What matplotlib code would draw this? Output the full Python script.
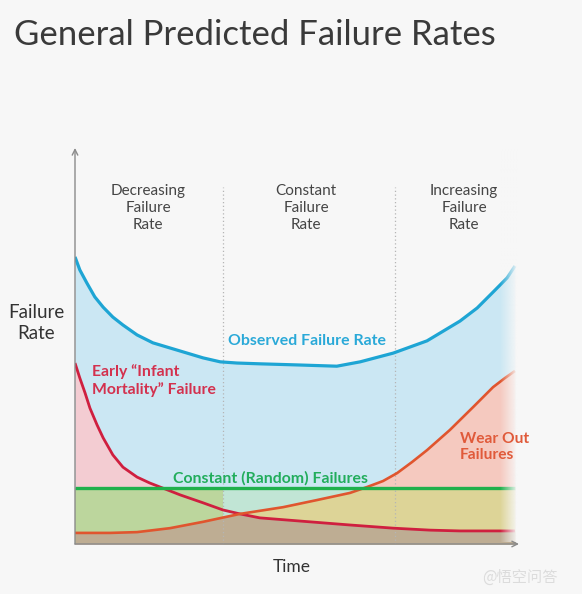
import numpy as np
import matplotlib
matplotlib.use('Agg')
import matplotlib.pyplot as plt

plt.rcParams['font.family'] = ['Lato', 'DejaVu Sans']

# curves: time 0..100, failure rate 0..100
obs_x = [0, 1.1, 2.7, 4.5, 6.4, 8.6, 10.9, 14.1, 17.7, 21.6, 25.5, 29.1, 33.0, 36.8,
         42.0, 51.1, 59.5, 64.8, 72.3, 80.0, 87.5, 91.4, 95.0, 98.2, 100]
obs_y = [72.5, 69.2, 65.9, 62.4, 59.8, 57.3, 55.3, 52.8, 50.8, 49.5, 48.2, 47.0, 46.0, 45.7,
         45.5, 45.2, 44.9, 46.0, 48.2, 51.3, 56.3, 59.6, 63.6, 67.2, 70.2]

infant_x = [0, 1.1, 2.3, 3.4, 5.0, 6.4, 8.6, 10.9, 14.1, 17.0, 20.0, 23.9, 29.1, 33.6,
            37.5, 42.0, 51.1, 62.5, 72.3, 80.7, 87.5, 100]
infant_y = [45.7, 41.9, 38.1, 34.3, 30.1, 26.8, 22.5, 19.4, 16.9, 15.4, 14.1, 12.4, 10.4, 8.6,
            7.6, 6.6, 5.8, 4.8, 4.0, 3.5, 3.3, 3.3]

wear_x = [0, 8.0, 14.1, 21.6, 29.1, 37.5, 47.3, 55.0, 62.5, 66.4, 70.0, 73.2,
          76.6, 80.0, 85.2, 90.5, 95.0, 97.7, 100]
wear_y = [2.8, 2.8, 3.0, 4.0, 5.6, 7.6, 9.3, 11.1, 12.9, 14.4, 15.9, 17.9,
          20.7, 23.7, 28.8, 34.6, 39.6, 41.9, 43.7]

random_level = 14.1
dividers = [33.6, 72.7]

sections = ['Decreasing\nFailure\nRate', 'Constant\nFailure\nRate', 'Increasing\nFailure\nRate']
section_x = [16.6, 52.5, 88.4]

bg = '#f7f7f7'
blue, red, orange, green = '#1ea5d4', '#cf1f3f', '#e0552e', '#1fb04c'

fig = plt.figure(figsize=(5.82, 5.94), dpi=100, facecolor=bg)
ax = fig.add_axes([75 / 582, 50 / 594, 442 / 582, 396 / 594])
ax.set_facecolor('none')
ax.set_xlim(0, 100.45)
ax.set_ylim(0, 100)
for s in ax.spines.values():
    s.set_visible(False)
ax.set_xticks([])
ax.set_yticks([])

# common grid for the fill regions
xg = np.array(sorted(set(obs_x) | set(infant_x) | set(wear_x) | set(dividers)))
o_y = np.interp(xg, obs_x, obs_y)
r_y = np.interp(xg, infant_x, infant_y)
w_y = np.interp(xg, wear_x, wear_y)
g_y = np.full_like(xg, random_level)

ax.fill_between(xg, 0, o_y, color='#cbe7f3', lw=0, zorder=1)
ax.fill_between(xg, 0, r_y, color='#f3ccd2', lw=0, zorder=2)
ax.fill_between(xg, 0, w_y, color='#f5c9bf', lw=0, zorder=2)
ax.fill_between(xg, 0, g_y, color='#c1e5d5', lw=0, zorder=3)
ax.fill_between(xg, 0, g_y, where=xg <= dividers[0], color='#bcd69d', lw=0, zorder=3)
ax.fill_between(xg, 0, np.minimum(w_y, g_y), where=xg >= dividers[0], color='#ddd497', lw=0, zorder=3)
ax.fill_between(xg, 0, np.minimum(r_y, w_y), color='#bead93', lw=0, zorder=4)

for d in dividers:
    ax.plot([d, d], [0, 90.2], color='#b5b5b5', lw=0.9, ls=(0, (1, 2)), zorder=5)

ax.plot(obs_x, obs_y, color=blue, lw=2.3, zorder=6, solid_capstyle='butt', solid_joinstyle='round')
ax.plot(infant_x, infant_y, color=red, lw=2.0, zorder=6, solid_capstyle='butt', solid_joinstyle='round')
ax.plot(wear_x, wear_y, color=orange, lw=1.9, zorder=6, solid_capstyle='butt', solid_joinstyle='round')
ax.plot([0, 100], [random_level, random_level], color=green, lw=2.4, zorder=6, solid_capstyle='butt')

# right edge fade
fade = np.zeros((2, 60, 4))
fade[..., :3] = matplotlib.colors.to_rgb(bg)
fade[..., 3] = np.linspace(0, 1, 60)
ax.imshow(fade, extent=[96.5, 100.45, 0.4, 100], aspect='auto', zorder=7, interpolation='bilinear')

# axes with arrows
ax.annotate('', xy=(0, 100), xytext=(0, 0),
            arrowprops=dict(arrowstyle='->', color='#8a8a8a', lw=1.0, shrinkA=0, shrinkB=0),
            annotation_clip=False, zorder=8)
ax.annotate('', xy=(100.9, 0), xytext=(0, 0),
            arrowprops=dict(arrowstyle='->', color='#8a8a8a', lw=1.0, shrinkA=0, shrinkB=0),
            annotation_clip=False, zorder=8)

for sx, txt in zip(section_x, sections):
    ax.text(sx, 84.8, txt, ha='center', va='center', fontsize=11, color='#454545',
            linespacing=1.25, zorder=9)

ax.text(52.7, 51.3, 'Observed Failure Rate', ha='center', va='center', fontsize=11.4,
        color='#2aa9d8', fontweight='bold', zorder=9)
ax.text(3.9, 41.3, 'Early \u201cInfant\nMortality\u201d Failure', ha='left', va='center',
        fontsize=11.3, color='#d3314e', fontweight='bold', linespacing=1.2, zorder=9)
ax.text(87.5, 24.4, 'Wear Out\nFailures', ha='left', va='center', fontsize=11.2,
        color='#e05a3a', fontweight='bold', linespacing=1.2, zorder=9, clip_on=False)
ax.text(44.5, 16.7, 'Constant (Random) Failures', ha='center', va='center', fontsize=11.4,
        color='#22ad5c', fontweight='bold', zorder=9)

fig.text(14 / 582, 1 - 35 / 594, 'General Predicted Failure Rates', ha='left', va='center',
         fontsize=25, color='#3a3a3a', fontweight='normal')
fig.text(36 / 582, 1 - 323 / 594, 'Failure\nRate', ha='center', va='center', fontsize=13.5,
         color='#333333', linespacing=1.35)
fig.text(292 / 582, 1 - 567 / 594, 'Time', ha='center', va='center', fontsize=12.5,
         color='#333333')
fig.text(520 / 582, 1 - 577 / 594, '@悟空问答', ha='center', va='center', fontsize=11,
         color='#dcdcdc', family=['Noto Sans CJK SC', 'DejaVu Sans'])

fig.savefig('out.png', dpi=100, facecolor=bg)
